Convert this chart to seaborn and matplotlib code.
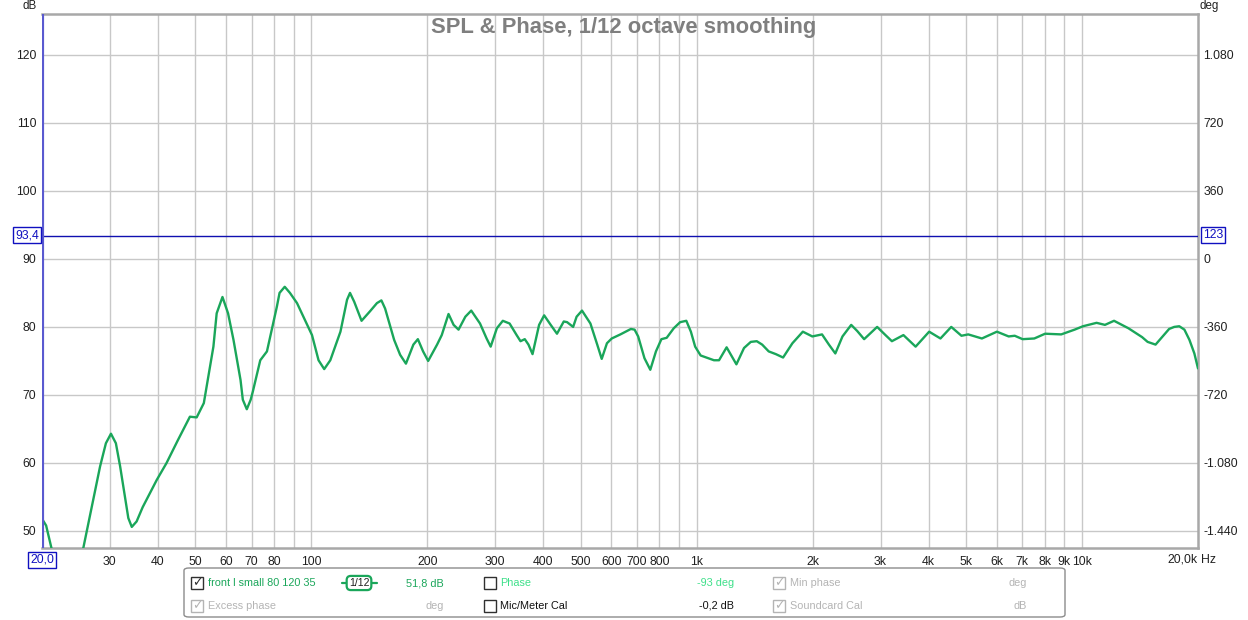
import matplotlib
matplotlib.use("Agg")
import matplotlib.pyplot as plt
import seaborn as sns
import numpy as np
import pandas as pd
from matplotlib.ticker import FixedLocator, NullFormatter, NullLocator
from matplotlib.patches import FancyBboxPatch, Rectangle
from matplotlib.lines import Line2D

# ---------------- data ----------------
freq_hz = [20, 20.5, 21.2, 23, 25.6, 28.3, 29.3, 30.2, 31.1, 31.9, 33.5, 34.2, 35.2, 36.5,
           39.7, 42.1, 45, 48.4, 50.4, 52.6, 55.7, 56.8, 58.8, 60.8, 62.8, 65.5, 66.4, 68.0,
           69.6, 70.5, 73.7, 76.7, 81.4, 82.7, 85.3, 88.0, 91.8, 100.4, 104.4, 108, 112, 119,
           123.8, 126, 129.2, 135, 142, 148, 152, 155.4, 164, 170,
           176, 184, 189, 195, 201, 212, 218, 227, 234, 241, 251, 260, 274, 285, 292, 303,
           314, 327, 341, 349, 358, 366, 375, 390, 402, 418, 434, 452, 461, 478, 488, 504,
           530, 552, 567, 585, 602, 634, 675, 690, 705, 732, 758,
           784, 810, 836, 872, 906, 940, 966, 991, 1024, 1109, 1143, 1196, 1268, 1327, 1382,
           1432, 1479, 1538, 1605, 1676, 1772, 1886, 1996, 2115, 2204, 2290, 2390, 2518, 2610,
           2720, 2940, 3090, 3211, 3440, 3700,
           4012, 4292, 4578, 4866, 5067, 5498, 6014, 6452, 6690, 7012, 7520, 8022, 8832, 9568,
           10060, 10910, 11470, 12110, 13200, 14320, 14800, 15520, 16830, 17350, 17880, 18440,
           19000, 19570, 20000]
spl_db = [51.8, 50.8, 47.3, 43.5, 47.5, 59.5, 62.9, 64.3, 62.9, 59.5, 51.9, 50.6, 51.4, 53.5,
          57.5, 60.0, 63.3, 66.8, 66.7, 68.8, 77.1, 82.0, 84.4, 82.0, 78.1, 72.2, 69.3, 67.9,
          69.3, 70.5, 75.1, 76.4, 83.0, 85.0, 85.9, 85.0, 83.5, 78.8, 75.1, 73.8, 75.1, 79.3,
          84.0, 85.0, 83.7, 80.9, 82.3, 83.5, 83.9, 82.7, 78.1, 75.9,
          74.6, 77.4, 78.2, 76.4, 75.0, 77.4, 78.8, 81.9, 80.3, 79.6, 81.5, 82.4, 80.5, 78.3, 77.1, 79.8,
          80.9, 80.5, 78.8, 77.9, 78.2, 77.4, 76.0, 80.3, 81.7, 80.3, 79.0, 80.8, 80.7, 80.0, 81.5, 82.4,
          80.5, 77.4, 75.3, 77.6, 78.3, 78.9, 79.7, 79.6, 78.6, 75.4, 73.7,
          76.4, 78.2, 78.4, 79.8, 80.7, 80.9, 79.3, 77.1, 75.8, 75.1, 75.1, 77.0, 74.5, 76.9, 77.8,
          77.9, 77.4, 76.4, 76.0, 75.5, 77.6, 79.3, 78.6, 78.9, 77.4, 76.1, 78.6, 80.3, 79.4,
          78.2, 80.0, 78.8, 77.9, 78.8, 77.1,
          79.3, 78.3, 80.0, 78.7, 78.9, 78.3, 79.3, 78.6, 78.7, 78.2, 78.3, 79.0, 78.9, 79.6,
          80.1, 80.6, 80.3, 80.9, 79.8, 78.5, 77.8, 77.4, 79.7, 80.0, 80.1, 79.6,
          78.1, 76.1, 73.9]

x_tick_values = [30, 40, 50, 60, 70, 80, 100, 200, 300, 400, 500, 600, 700, 800,
                 1000, 2000, 3000, 4000, 5000, 6000, 7000, 8000, 9000, 10000]
x_tick_labels = ["30", "40", "50", "60", "70", "80", "100", "200", "300", "400", "500",
                 "600", "700", "800", "1k", "2k", "3k", "4k", "5k", "6k", "7k", "8k", "9k", "10k"]
y_ticks_db = [50, 60, 70, 80, 90, 100, 110, 120]
y_ticks_deg = [-1440, -1080, -720, -360, 0, 360, 720, 1080]
y_labels_deg = ["-1.440", "-1.080", "-720", "-360", "0", "360", "720", "1.080"]
cursor_db = 93.4
cursor_deg_label = "123"
cursor_freq = 20

title = "SPL & Phase, 1/12 octave smoothing"

df = pd.DataFrame({"freq": freq_hz, "spl": spl_db})

# ---------------- figure ----------------
sns.set_style("white")
plt.rcParams["font.family"] = ["Liberation Sans", "DejaVu Sans"]

fig = plt.figure(figsize=(12.48, 6.2), dpi=100)
L, R, B, T = 42 / 1248, 1198 / 1248, 1 - 548 / 620, 1 - 14 / 620
ax = fig.add_axes([L, B, R - L, T - B])

xmin, xmax = 20, 20000
ymin, ymax = 47.5, 126.0

ax.set_xscale("log")
ax.set_xlim(xmin, xmax)
ax.set_ylim(ymin, ymax)

# grid
grid_c = "#c8c8c8"
minor_grid = [f * m for f in (10, 100, 1000, 10000) for m in range(1, 10)]
minor_grid = [v for v in minor_grid if xmin < v < xmax]
for v in minor_grid:
    ax.axvline(v, color=grid_c, lw=1.0, zorder=0)
for v in y_ticks_db:
    ax.axhline(v, color=grid_c, lw=1.0, zorder=0)

sns.lineplot(data=df, x="freq", y="spl", ax=ax, color="#1aa65a", lw=1.7,
             zorder=3, sort=False, legend=False, solid_joinstyle="round",
             solid_capstyle="round")

# cursor lines
ax.axhline(cursor_db, color="#1010b0", lw=1.0, zorder=4)
ax.axvline(cursor_freq, color="#5a5ad0", lw=3.0, zorder=5)

ax.xaxis.set_major_locator(FixedLocator(x_tick_values))
ax.set_xticklabels(x_tick_labels)
ax.xaxis.set_minor_locator(NullLocator())
ax.xaxis.set_minor_formatter(NullFormatter())
ax.set_yticks(y_ticks_db)
ax.tick_params(axis="both", length=0, labelsize=8.8, colors="#202020", pad=4)
ax.tick_params(axis="x", pad=6)
ax.set_xlabel("")
ax.set_ylabel("")

for s in ["top", "bottom", "right"]:
    ax.spines[s].set_color("#a8a8a8")
    ax.spines[s].set_linewidth(1.8)
ax.spines["left"].set_visible(False)

# right axis (deg)
ax2 = ax.twinx()
ax2.set_ylim((ymin - 90) * 36, (ymax - 90) * 36)
ax2.set_yticks(y_ticks_deg)
ax2.set_yticklabels(y_labels_deg)
ax2.tick_params(axis="y", length=0, labelsize=8.8, colors="#202020", pad=4)
for s in ax2.spines.values():
    s.set_visible(False)
ax2.grid(False)

# title
ax.text(0.5, 1 - 27 / 620, title, transform=fig.transFigure, ha="center", va="center",
        fontsize=15.8, fontweight="bold", color="#7f7f7f", zorder=6)

# axis unit labels
fig.text(30 / 1248, 1 - 6 / 620, "dB", ha="center", va="center", fontsize=8.3, color="#202020")
fig.text(1209 / 1248, 1 - 6 / 620, "deg", ha="center", va="center", fontsize=8.3, color="#202020")
fig.text(1198 / 1248, 1 - 560 / 620, "20,0k", ha="right", va="center", fontsize=8.8, color="#202020")
fig.text(1201 / 1248, 1 - 560 / 620, "Hz", ha="left", va="center", fontsize=8.8, color="#202020")

# boxed cursor labels
box = dict(boxstyle="square,pad=0.15", fc="white", ec="#1010c0", lw=1.0)
fig.text(39 / 1248, 1 - 235 / 620, "93,4", ha="right", va="center", fontsize=8.8,
         color="#1010c0", bbox=box)
fig.text(1203 / 1248, 1 - 235 / 620, cursor_deg_label, ha="left", va="center", fontsize=8.8,
         color="#1010c0", bbox=box)
fig.text(42 / 1248, 1 - 560 / 620, "20,0", ha="center", va="center", fontsize=8.8,
         color="#1010c0", bbox=box)

# ---------------- info panel ----------------
W, H = 1248, 620
def fx(px):
    return px / W
def fy(py):
    return 1 - py / H

panel = FancyBboxPatch((fx(184), fy(617)), fx(1065) - fx(184), fy(568) - fy(617),
                       boxstyle="round,pad=0,rounding_size=0.004", transform=fig.transFigure,
                       fc="white", ec="#8c8c8c", lw=1.0)
fig.add_artist(panel)

def checkbox(px, py, checked, color):
    r = Rectangle((fx(px), fy(py + 6)), fx(12), 12 / H, transform=fig.transFigure,
                  fc="white", ec=color, lw=1.0)
    fig.add_artist(r)
    if checked:
        fig.text(fx(px + 6), fy(py), "\u2713", ha="center", va="center", fontsize=9,
                 color=color, family=["DejaVu Sans"])

green = "#1aa65a"
lgreen = "#3ee08a"
gray = "#b4b4b4"
fs = 7.8
r1, r2 = 583, 606
checkbox(191, r1, True, "#303030")
fig.text(fx(208), fy(r1), "front l small 80 120 35", ha="left", va="center", fontsize=fs, color=green)
fig.text(fx(359), fy(r1), "1/12", ha="center", va="center", fontsize=7.5, color="#202020",
         bbox=dict(boxstyle="round,pad=0.2,rounding_size=0.4", fc="white", ec=green, lw=1.6))
fig.add_artist(Line2D([fx(342), fx(347)], [fy(r1), fy(r1)], transform=fig.transFigure, color=green, lw=1.6))
fig.add_artist(Line2D([fx(371), fx(377)], [fy(r1), fy(r1)], transform=fig.transFigure, color=green, lw=1.6))
fig.text(fx(444), fy(r1), "51,8 dB", ha="right", va="center", fontsize=fs, color=green)
checkbox(484, r1, False, "#303030")
fig.text(fx(500), fy(r1), "Phase", ha="left", va="center", fontsize=fs, color=lgreen)
fig.text(fx(734), fy(r1), "-93 deg", ha="right", va="center", fontsize=fs, color=lgreen)
checkbox(773, r1, True, gray)
fig.text(fx(790), fy(r1), "Min phase", ha="left", va="center", fontsize=fs, color=gray)
fig.text(fx(1027), fy(r1), "deg", ha="right", va="center", fontsize=fs, color=gray)

checkbox(191, r2, True, gray)
fig.text(fx(208), fy(r2), "Excess phase", ha="left", va="center", fontsize=fs, color=gray)
fig.text(fx(444), fy(r2), "deg", ha="right", va="center", fontsize=fs, color=gray)
checkbox(484, r2, False, "#303030")
fig.text(fx(500), fy(r2), "Mic/Meter Cal", ha="left", va="center", fontsize=fs, color="#101010")
fig.text(fx(734), fy(r2), "-0,2 dB", ha="right", va="center", fontsize=fs, color="#101010")
checkbox(773, r2, True, gray)
fig.text(fx(790), fy(r2), "Soundcard Cal", ha="left", va="center", fontsize=fs, color=gray)
fig.text(fx(1027), fy(r2), "dB", ha="right", va="center", fontsize=fs, color=gray)

fig.savefig("out.png", dpi=100, facecolor="white")
